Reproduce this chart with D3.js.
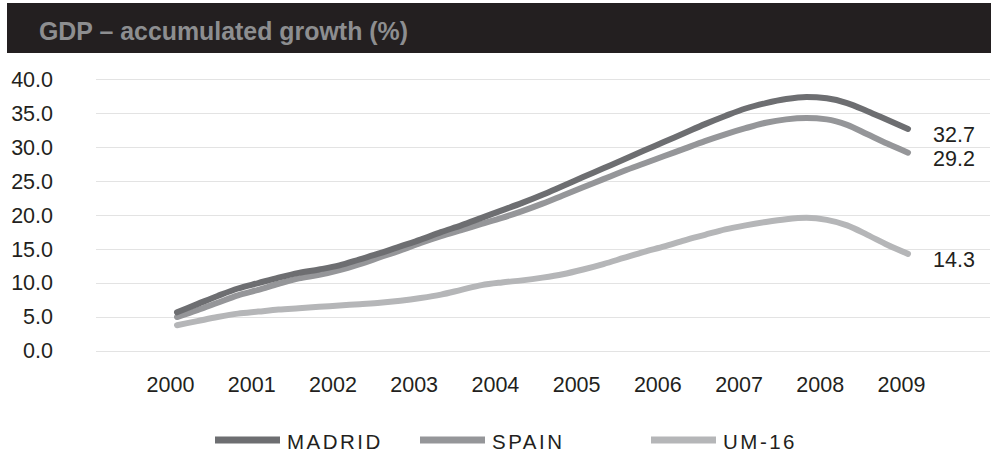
<!DOCTYPE html>
<html>
<head>
<meta charset="utf-8">
<script src="https://cdn.jsdelivr.net/npm/d3@7"></script>
<style>
  body { margin: 0; background: #fff; }
  text { font-family: "Liberation Sans", Arial, sans-serif; fill: #231f20; }
  .grid-line { stroke: #e3e3e3; stroke-width: 1; }
  .line { fill: none; stroke-width: 6; stroke-linecap: round; stroke-linejoin: round; }
</style>
</head>
<body>
<div id="wrapper"></div>
<script>
// quarterly periods
const quarters = [
  "2000Q1","2000Q2","2000Q3","2000Q4","2001Q1","2001Q2","2001Q3","2001Q4",
  "2002Q1","2002Q2","2002Q3","2002Q4","2003Q1","2003Q2","2003Q3","2003Q4",
  "2004Q1","2004Q2","2004Q3","2004Q4","2005Q1","2005Q2","2005Q3","2005Q4",
  "2006Q1","2006Q2","2006Q3","2006Q4","2007Q1","2007Q2","2007Q3","2007Q4",
  "2008Q1","2008Q2","2008Q3","2008Q4","2009Q1",
]
const madrid = [
  5.7, 6.9, 8.1, 9.2, 10.0, 10.8, 11.5, 12.0,
  12.6, 13.5, 14.4, 15.4, 16.4, 17.5, 18.5, 19.6,
  20.7, 21.8, 23.0, 24.3, 25.6, 26.9, 28.2, 29.5,
  30.8, 32.1, 33.4, 34.6, 35.7, 36.5, 37.1, 37.4,
  37.2, 36.5, 35.3, 34.0, 32.7,
]
const spain = [
  5.0, 6.0, 7.1, 8.2, 9.0, 9.9, 10.7, 11.2,
  11.9, 12.8, 13.8, 14.8, 15.9, 16.9, 17.8, 18.7,
  19.6, 20.6, 21.7, 22.9, 24.1, 25.3, 26.5, 27.6,
  28.7, 29.8, 30.9, 31.9, 32.8, 33.6, 34.1, 34.3,
  34.1, 33.3, 31.9, 30.5, 29.2,
]
const um16 = [
  3.8, 4.4, 5.0, 5.5, 5.8, 6.1, 6.3, 6.5,
  6.7, 6.9, 7.1, 7.4, 7.8, 8.3, 9.0, 9.7,
  10.1, 10.4, 10.8, 11.3, 12.0, 12.8, 13.7, 14.6,
  15.4, 16.3, 17.1, 17.9, 18.5, 19.0, 19.4, 19.6,
  19.3, 18.5, 17.1, 15.6, 14.3,
]
const seriesNames = ["MADRID", "SPAIN", "UM-16"]
const years = [2000, 2001, 2002, 2003, 2004, 2005, 2006, 2007, 2008, 2009]
const yTicks = [0, 5, 10, 15, 20, 25, 30, 35, 40]
const title = "GDP \u2013 accumulated growth (%)"

function drawChart() {

  // 1. Data

  const periodAccessor = q => +q.slice(0, 4) + (+q.slice(5) - 1) / 4
  const series = [madrid, spain, um16].map((values, i) => ({
    name: seriesNames[i],
    values: values.map((v, j) => ({ t: periodAccessor(quarters[j]), v })),
  }))
  const colors = ["#6d6e71", "#959699", "#b5b6b8"]

  // 2. Dimensions

  const dimensions = {
    width: 991,
    height: 455,
    gridLeft: 96,
    gridRight: 990,
    plotLeft: 177,
    plotRight: 908,
    top: 79.3,
    bottom: 351,
  }

  // 3. Canvas

  const wrapper = d3.select("#wrapper")
    .append("svg")
      .attr("width", dimensions.width)
      .attr("height", dimensions.height)

  wrapper.append("rect")
      .attr("x", 7)
      .attr("y", 3)
      .attr("width", dimensions.width - 7)
      .attr("height", 50)
      .attr("fill", "#231f20")

  wrapper.append("text")
      .attr("x", 39)
      .attr("y", 39.5)
      .attr("textLength", 369)
      .attr("lengthAdjust", "spacingAndGlyphs")
      .style("font-size", "26px")
      .style("font-weight", "bold")
      .style("fill", "#8d8e90")
      .text(title)

  // 4. Scales

  const xScale = d3.scaleLinear()
    .domain([2000, 2009])
    .range([dimensions.plotLeft, dimensions.plotRight])

  const yScale = d3.scaleLinear()
    .domain([0, 40])
    .range([dimensions.bottom, dimensions.top])

  // 5. Peripherals

  wrapper.append("g")
    .selectAll("line")
    .data(yTicks)
    .join("line")
      .attr("class", "grid-line")
      .attr("x1", dimensions.gridLeft)
      .attr("x2", dimensions.gridRight)
      .attr("y1", d => Math.round(yScale(d)) + 0.5)
      .attr("y2", d => Math.round(yScale(d)) + 0.5)

  const yAxis = wrapper.append("g")
      .attr("transform", "translate(53, 0)")
      .call(d3.axisLeft(yScale).tickValues(yTicks).tickFormat(d3.format(".1f")).tickSize(0).tickPadding(0))
  yAxis.select(".domain").remove()
  yAxis.selectAll("text")
      .style("font-family", "\"Liberation Sans\", Arial, sans-serif")
      .style("font-size", "21.5px")
      .attr("fill", "#231f20")

  const xAxis = wrapper.append("g")
      .attr("transform", "translate(0, 377)")
      .call(d3.axisBottom(xScale).tickValues(years).tickFormat(d3.format("d")).tickSize(0).tickPadding(0))
  xAxis.select(".domain").remove()
  xAxis.selectAll("text")
      .attr("dx", -7)
      .attr("dy", "0.7em")
      .style("font-family", "\"Liberation Sans\", Arial, sans-serif")
      .style("font-size", "21.5px")
      .attr("fill", "#231f20")

  // 6. Lines

  const lineGenerator = d3.line()
      .x(d => xScale(d.t))
      .y(d => yScale(d.v))
      .curve(d3.curveMonotoneX)

  wrapper.append("g")
    .selectAll("path")
    .data(series.slice().reverse())
    .join("path")
      .attr("class", "line")
      .attr("d", d => lineGenerator(d.values))
      .attr("stroke", d => colors[seriesNames.indexOf(d.name)])

  // end value labels
  wrapper.append("g")
    .selectAll("text")
    .data(series)
    .join("text")
      .attr("x", 933)
      .attr("y", d => yScale(d.values[d.values.length - 1].v) + 13)
      .style("font-size", "21.5px")
      .text(d => d3.format(".1f")(d.values[d.values.length - 1].v))

  // 7. Legend

  const legendX = [215, 420, 651]
  const legend = wrapper.append("g")
    .selectAll("g")
    .data(series)
    .join("g")
      .attr("transform", (d, i) => `translate(${legendX[i]}, 440)`)

  legend.append("rect")
      .attr("x", 0)
      .attr("y", -3.5)
      .attr("width", 65)
      .attr("height", 7)
      .attr("fill", (d, i) => colors[i])

  legend.append("text")
      .attr("x", 72)
      .attr("y", 9)
      .style("font-size", "20.5px")
      .style("letter-spacing", "2.5px")
      .text(d => d.name)
}
drawChart()
</script>
</body>
</html>
